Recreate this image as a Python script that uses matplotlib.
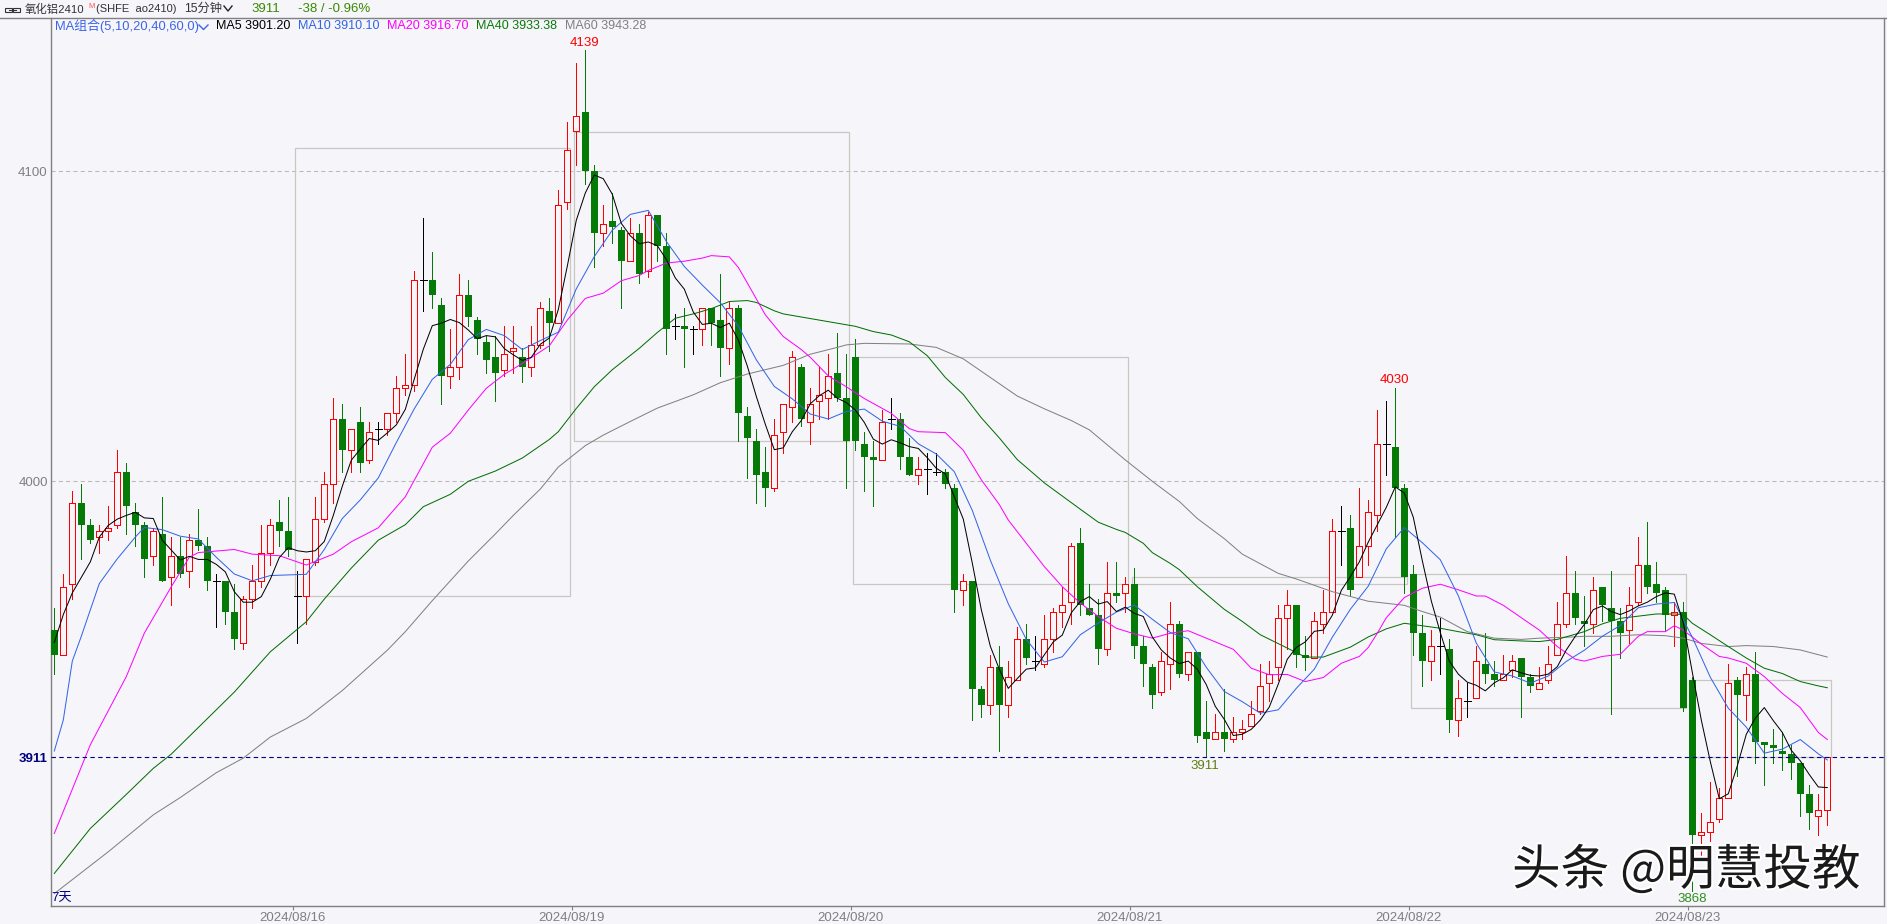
import matplotlib
matplotlib.use("Agg")
import matplotlib.pyplot as plt
import matplotlib.patheffects as pe
from matplotlib.lines import Line2D
from matplotlib.patches import Rectangle

plt.rcParams['font.family'] = ['Liberation Sans', 'Noto Sans CJK SC', 'DejaVu Sans']

W, H = 1887, 924
BG = '#f5f5fa'
RED = '#ff0000'
GREEN = '#067a06'
BLUE = '#3264e6'
MAGENTA = '#ff00ff'
GRAY = '#808080'
NAVY = '#000080'

opens = [3952,3944,3967,3993,3986,3982,3984,3986,4003,3990,3986,3976,3983,3969,3976,3971,3981,3979,3968,3968,
         3958,3948,3962,3968,3977,3987,3984,3963,3963,3974,3988,3999,4020,4010,4019,4007,4017,4017,4022,4030,
         4031,4065,4065,4057,4034,4037,4060,4052,4045,4040,4036,4042,4040,4037,4044,4055,4051,4090,4113,4119,
         4100,4080,4084,4081,4071,4080,4068,4086,4076,4050,4050,4049,4049,4056,4052,4043,4056,4021,4013,4003,
         3998,4016,4024,4037,4019,4026,4027,4035,4027,4040,4012,4008,4007,4020,4020,4008,4002,4004,4003,4003,
         3998,3965,3968,3933,3928,3940,3928,3936,3949,3942,3941,3949,3958,3961,3980,3959,3957,3946,3964,3964,
         3967,3947,3940,3932,3941,3954,3938,3945,3919,3917,3919,3917,3919,3921,3926,3935,3940,3956,3960,3944,
         3943,3954,3958,3984,3985,3969,3979,3989,4012,4011,3998,3970,3951,3942,3947,3946,3923,3929,3930,3941,
         3938,3936,3939,3943,3937,3933,3936,3944,3954,3964,3955,3954,3966,3959,3955,3952,3961,3973,3967,3965,
         3957,3958,3936,3886,3887,3891,3898,3936,3931,3938,3916,3915,3913,3912,3909,3899,3892,3894]
highs = [3959,3970,3997,3999,3988,3986,3992,4010,4006,3993,3987,3985,3995,3982,3982,3983,3991,3982,3970,3968,
         3967,3963,3973,3986,3988,3994,3995,3971,3975,3995,4003,4027,4025,4017,4024,4019,4019,4022,4034,4041,
         4068,4085,4074,4059,4049,4067,4065,4053,4047,4047,4050,4050,4043,4050,4058,4059,4094,4116,4135,4139,
         4102,4089,4093,4082,4085,4083,4087,4086,4080,4054,4056,4050,4056,4056,4067,4058,4057,4024,4017,4011,
         4020,4025,4042,4038,4030,4037,4041,4048,4041,4046,4016,4013,4023,4027,4022,4014,4008,4009,4009,4004,
         3999,3970,3968,3934,3944,3947,3942,3953,3954,3950,3957,3959,3966,3980,3985,3967,3962,3974,3974,3969,
         3972,3950,3941,3945,3961,3955,3945,3945,3929,3925,3933,3924,3923,3929,3941,3942,3960,3965,3960,3950,
         3958,3965,3988,3992,3989,3998,3994,4023,4026,4030,3999,3973,3957,3952,3956,3949,3936,3935,3947,3951,
         3942,3944,3944,3943,3938,3940,3947,3961,3976,3971,3963,3969,3966,3971,3959,3966,3982,3987,3974,3966,
         3961,3961,3937,3893,3903,3901,3941,3937,3940,3945,3916,3920,3919,3915,3909,3902,3899,3911]
lows = [3938,3944,3962,3975,3980,3977,3981,3985,3983,3979,3969,3973,3968,3960,3969,3966,3978,3965,3953,3954,
        3946,3946,3959,3966,3973,3979,3976,3948,3954,3973,3987,3993,4003,4003,4003,4006,4012,4015,4019,4028,
        4029,4055,4056,4025,4030,4033,4050,4041,4035,4026,4034,4035,4032,4034,4043,4042,4051,4088,4102,4096,
        4069,4076,4077,4056,4071,4064,4066,4071,4041,4046,4037,4041,4044,4044,4034,4038,4013,4001,3993,3992,
        3997,4009,4019,4018,4012,4020,4020,4026,3998,4010,3997,3992,4007,4017,4004,4002,3999,3996,4002,3998,
        3958,3960,3923,3924,3925,3913,3924,3936,3941,3939,3940,3945,3953,3954,3957,3957,3941,3944,3961,3958,
        3943,3934,3927,3931,3933,3937,3936,3916,3911,3917,3913,3916,3917,3921,3925,3929,3936,3946,3940,3939,
        3943,3951,3958,3973,3963,3969,3973,3984,4002,3982,3964,3944,3934,3936,3938,3919,3918,3924,3930,3935,
        3934,3936,3937,3924,3932,3933,3935,3944,3953,3954,3947,3951,3955,3925,3943,3948,3960,3964,3961,3952,
        3947,3926,3868,3878,3884,3890,3898,3905,3923,3909,3902,3909,3907,3904,3892,3888,3886,3889]
closes = [3944,3966,3993,3986,3981,3984,3985,4003,3992,3986,3975,3984,3968,3976,3970,3981,3979,3968,3968,3958,
          3949,3962,3968,3977,3986,3984,3978,3963,3975,3988,3999,4020,4010,4017,4006,4016,4017,4022,4030,4031,
          4065,4065,4060,4034,4037,4060,4053,4046,4039,4035,4041,4043,4037,4044,4056,4051,4089,4107,4118,4100,
          4080,4083,4082,4071,4080,4067,4086,4076,4049,4050,4049,4049,4056,4051,4043,4056,4022,4014,4002,3998,
          4015,4025,4040,4020,4025,4028,4034,4027,4013,4013,4008,4007,4019,4020,4008,4002,4004,4004,4003,3999,
          3965,3968,3933,3928,3940,3928,3937,3949,3943,3942,3949,3958,3960,3979,3960,3957,3946,3964,3963,3967,
          3947,3941,3931,3942,3954,3938,3945,3918,3917,3919,3917,3919,3920,3925,3934,3938,3956,3960,3944,3943,
          3955,3958,3984,3984,3965,3979,3990,4012,4012,3998,3969,3951,3942,3947,3947,3923,3930,3929,3942,3938,
          3936,3938,3942,3937,3934,3935,3941,3954,3964,3956,3954,3965,3960,3955,3951,3960,3973,3966,3964,3957,
          3958,3927,3886,3887,3890,3898,3935,3931,3938,3916,3915,3914,3912,3909,3899,3893,3894,3911]

ma5_values = [3948,3957,3964,3969,3974,3982,3985.8,3987.8,3989,3990,3988.2,3988,3981,3977.8,3974.6,3975.8,3974.8,3974.8,3973.2,3970.8,
 3964.4,3961,3961,3962.8,3968.4,3975.4,3978.6,3977.6,3977.2,3977.6,3980.6,3989,3998.4,4006.8,4010.4,4013.8,4013.2,4015.6,4018.2,4023.2,
 4033,4042.6,4050.2,4051,4052.2,4051.2,4048.8,4046,4047,4046.6,4042.8,4040.8,4039,4040,4044.2,4046.2,4055.4,4069.4,4084.2,4093,
 4098.8,4097.6,4092.6,4083.2,4079.2,4076.6,4077.2,4076,4071.6,4065.6,4062,4054.6,4050.6,4051,4049.6,4051,4045.6,4037.2,4027.4,4018.4,
 4010.2,4010.8,4016,4019.6,4025,4027.6,4029.4,4026.8,4025.4,4023,4019,4013.6,4012,4013.4,4012.4,4011.2,4010.6,4007.6,4004.2,4002.4,
 3995,3987.8,3973.6,3958.6,3946.8,3939.4,3933.2,3936.4,3939.4,3939.8,3944,3948.2,3950.4,3957.6,3961.2,3962.8,3960.4,3961.2,3958,3959.4,
 3957.4,3956.4,3949.8,3945.6,3943,3941.2,3942,3939.4,3934.4,3927.4,3923.2,3918,3918.4,3920,3923,3927.2,3934.6,3942.6,3946.4,3948.2,
 3951.6,3952,3956.8,3964.8,3969.2,3974,3980.4,3986,3991.6,3998.2,3996.2,3988.4,3974.4,3961.4,3951.2,3942,3937.8,3935.2,3934.2,3932.4,
 3935,3936.6,3939.2,3938.2,3937.4,3937.2,3937.8,3940.2,3945.6,3950,3953.8,3958.6,3959.8,3958,3957,3958.2,3959.8,3961,3962.8,3964,
 3963.6,3954.4,3938.4,3923,3909.6,3897.6,3899.2,3908.2,3918.4,3923.6,3927,3922.8,3919,3913.2,3909.8,3905.4,3901.4,3901.2]

ma10_bars = [0,1,2,3,5,7,9,10,12,14,16,18,20,22,24,26,28,30,32,34,36,38,40,42,44,46,48,50,52,54,56,58,60,62,64,66,68,70,72,74,76,78,80,
 82,84,86,88,90,92,94,96,98,100,102,104,106,108,110,112,114,116,118,120,122,124,126,128,130,132,134,136,138,140,142,144,146,148,150,
 152,154,156,158,160,162,164,166,168,170,172,174,176,178,180,182,184,186,188,190,192,194,196,197]
ma10_values = [3913,3923,3942,3950,3967,3975,3982,3985.1,3984.4,3982.3,3981.4,3975.5,3970.1,3967.9,3969.6,3969.8,3970,3978,3988,3994,4001.1,4012.5,4023.4,4032.9,4037.7,4045.7,4049,4047,4042.5,4045.4,4048.1,4062.1,4072.5,4081,4086.1,4087.4,4077.4,4069.3,4063.3,4057.6,4050.1,4039.2,4030.6,
 4026.6,4021.7,4020.1,4022.5,4023.3,4019.4,4017.7,4012.1,4008.8,4003.1,3990.6,3974.6,3960.5,3949,3941.7,3943.4,3950.5,3954.3,3957.8,3960.1,3955.5,3951.2,3949.2,3940,3932.2,3928.9,3925.2,3926.3,3933.2,3939.4,3949.7,3958.7,3966.2,3978.2,3985.1,
 3980.2,3974.7,3963.1,3947.8,3938.5,3937.2,3934.9,3937.2,3941.9,3945.5,3950,3953.5,3959.2,3960.4,3960.9,3949.7,3936.8,3926.8,3920.7,3912.3,3913.6,3916.7,3912.1,3910.1]

ma20_bars = [0,1,4,8,10,13,15,16,20,22,25,28,31,33,36,39,42,44,46,48,50,52,55,57,59,61,63,65,66,68,70,72,73,75,76,77,79,81,83,84,86,88,90,93,95,96,99,101,103,105,106,108,110,112,114,116,118,120,122,124,126,128,131,133,135,137,139,141,143,145,146,147,148,150,152,154,156,158,159,161,163,165,167,169,170,172,174,176,177,179,180,181,183,185,186,188,190,192,194,196,197]
ma20_values = [3886.4,3893.5,3915,3937,3951,3966,3975.5,3977,3978,3976.5,3976,3973,3976.5,3980.5,3985,3995,4011,4015.5,4023,4030,4034.5,4038,4043.7,4052,4059,4060.7,4064.7,4066.4,4068,4070.4,4071,4072,4072.8,4072.4,4069,4064,4053.7,4046.7,4042.5,4040,4034,4030.5,4026.7,4021.9,4017,4016,4015.7,4010,4000.5,3992.5,3987.5,3980,3972.5,3966,3960.7,3956.4,3952.6,3950.8,3949.4,3951,3951.8,3949.4,3945.8,3939.7,3937.6,3937.7,3935.4,3936.7,3941.3,3943.5,3946.4,3951,3956,3962.5,3965.5,3966.8,3965,3963,3963,3960,3956,3952,3946.7,3942.6,3942,3943.5,3944.2,3950,3951.5,3951.5,3953.4,3952,3947.5,3943.5,3943,3941.3,3937,3931.6,3927,3919,3916.7]

ma40_bars = [0,4,8,11,13,20,24,28,30,33,36,39,41,44,46,49,52,55,56,58,60,62,65,67,69,71,73,75,77,78,80,81,83,85,87,89,91,93,95,97,99,101,103,105,107,110,114,116,118,119,121,122,124,125,127,130,132,134,137,139,141,144,146,148,150,152,154,156,158,160,163,165,167,170,172,174,176,178,180,181,182,184,186,188,190,192,194,196,197]
ma40_values = [3873.5,3888,3899,3907.4,3912,3932,3945,3954.7,3962,3972,3981,3986,3991.8,3995.8,4000,4003.3,4007.5,4013.5,4016,4023.5,4030.5,4036,4042.9,4048,4052.6,4054,4055.7,4058,4058.3,4057.7,4055,4054,4053,4052,4051,4050,4048.3,4047.2,4045,4040.5,4033.5,4028,4020.5,4014,4007,3999.5,3991,3986.8,3984.5,3983.5,3980,3977,3973.5,3971.5,3966,3958.7,3954.8,3950.5,3946.2,3943.3,3943.3,3946.5,3949.8,3952.4,3954.2,3953.4,3952.6,3951.5,3950.5,3948.9,3948.5,3948.3,3949,3951.5,3954,3955.8,3956.5,3957.2,3957.2,3957,3954.2,3950.5,3946.7,3943,3939.7,3938,3935.4,3934,3933.4]

ma60_bars = [0,6,11,14,18,21,24,28,32,37,39,42,46,49,51,54,56,59,61,64,67,71,74,77,81,84,87,88,90,95,98,101,104,107,110,113,115,119,122,125,127,130,132,136,138,142,146,150,152,154,157,160,163,165,168,170,173,176,179,181,183,186,188,191,194,197]
ma60_values = [3867,3880.5,3892.4,3898,3906,3910.7,3917.5,3923.5,3932.5,3945.5,3951.5,3961.5,3974.3,3983,3989,3997.5,4004.6,4011.5,4014.9,4019.3,4023.6,4027.9,4031.8,4034.6,4037.4,4041,4043.2,4044,4044.5,4044.3,4043.2,4039.5,4033.5,4027.5,4023.4,4019.6,4016.6,4006.9,4000,3993.5,3988,3981.5,3976.5,3970.3,3968.5,3964.4,3961.3,3960,3958,3956.2,3951.5,3949.4,3949,3949.4,3949.7,3950,3950,3950.5,3950.2,3949.4,3947.7,3946.7,3947,3946.7,3945.6,3943.3]

box_left = [26.7,57.7,88.7,119.7,150.7,181.7]
box_right = [57.3,88.3,119.3,150.3,181.3,197.4]
box_high = [4107.4,4112.6,4040,3969,3970,3936]
box_low = [3963,4013,3967,3967,3927,3911]

date_positions = [26.5,57.5,88.5,119.5,150.5,181.5]
date_labels = ['2024/08/16','2024/08/19','2024/08/20','2024/08/21','2024/08/22','2024/08/23']
price_ticks = [4100,4000,3911]

fig = plt.figure(figsize=(W/100, H/100), dpi=100, facecolor=BG)
L, R, T, B = 50.5, 1883.5, 17.5, 905.5
ax = fig.add_axes([L/W, 1-B/H, (R-L)/W, (B-T)/H], facecolor=BG)
ax.set_xlim((L-54.3)/9, (R-54.3)/9)
ax.set_ylim(4000-(B-481.3)/3.1, 4000+(481.3-T)/3.1)
for s in ax.spines.values():
    s.set_color(GRAY); s.set_linewidth(1.0)
ax.spines['top'].set_visible(False)

# grid
for p in price_ticks[:2]:
    ax.axhline(p, color='#b9b9b9', lw=0.75, ls=(0, (4, 3)), zorder=1)
ax.axhline(price_ticks[2], color=NAVY, lw=0.8, ls=(0, (4, 3)), zorder=5)

# pivot boxes
for l, r, hi, lo in zip(box_left, box_right, box_high, box_low):
    ax.add_patch(Rectangle((l, lo), r-l, hi-lo, fill=False, ec='#c8c8c0', lw=0.85, zorder=1.5))

# candles
xs = list(range(len(closes)))
CW = 0.72
for i, (o, h, l, c) in enumerate(zip(opens, highs, lows, closes)):
    col = RED if c > o else (GREEN if c < o else 'black')
    ax.vlines(i, l, h, color=col, lw=CW, zorder=2, antialiased=False)
    if c == o:
        ax.hlines(c, i-0.4, i+0.4, color=col, lw=CW, zorder=3, antialiased=False)
    elif c > o:
        ax.bar(i, c-o, bottom=o, width=0.68, facecolor=BG, edgecolor=RED, lw=CW, zorder=3, antialiased=False)
    else:
        ax.bar(i, o-c, bottom=c, width=0.78, facecolor=GREEN, edgecolor=GREEN, lw=0, zorder=3, antialiased=False)

# moving averages
ax.plot(ma60_bars, ma60_values, color=GRAY, lw=0.72, zorder=4)
ax.plot(ma40_bars, ma40_values, color='#006e00', lw=0.72, zorder=4)
ax.plot(ma20_bars, ma20_values, color=MAGENTA, lw=0.72, zorder=4)
ax.plot(ma10_bars, ma10_values, color=BLUE, lw=0.72, zorder=4)
ax.plot(xs, ma5_values, color='black', lw=0.72, zorder=4)

# axes ticks
ax.set_xticks(date_positions, date_labels)
ax.tick_params(axis='x', length=3, color=GRAY, labelsize=9.5, labelcolor='#808080', pad=2)
ax.set_yticks(price_ticks, [str(p) for p in price_ticks])
ax.tick_params(axis='y', length=0, labelsize=9.5, pad=2, labelcolor='#808080')
lab = ax.get_yticklabels()[2]
lab.set_color(NAVY); lab.set_fontweight('bold')

def T_(x, y, s, color='black', size=9.0, ha='left', va='center', **kw):
    return fig.text(x/W, 1-y/H, s, color=color, fontsize=size, ha=ha, va=va, **kw)

# top rule and header
fig.add_artist(Line2D([0, 1], [1-17.5/H]*2, color=GRAY, lw=1.0))
for x0 in (4.5, 12.5):
    fig.add_artist(Rectangle((x0/W, 1-12/H), 7/W, 4/H, fill=False, ec='#333333', lw=0.8, transform=fig.transFigure))
fig.add_artist(Line2D([9/W, 16/W], [1-10/H]*2, color='#333333', lw=0.8))
T_(25, 9, '氧化铝2410', color='#333333', size=8.2)
T_(88, 6, 'M', color='#ff5050', size=5.5)
T_(96, 9, '(SHFE  ao2410)', color='#333333', size=8)
T_(184, 9, '15分钟', color='#333333', size=8.8)
fig.add_artist(Line2D([224/W, 228/W, 232/W], [1-6/H, 1-11/H, 1-6/H], color='#222222', lw=1.0))
T_(251, 9, '3911', color='#3a8a00', size=9.5)
T_(298, 9, '-38 / -0.96%', color='#3a8a00', size=9.5)

# MA legend
T_(55, 26, 'MA组合(5,10,20,40,60,0)', color='#3c64e6', size=9.3)
fig.add_artist(Line2D([199/W, 203.5/W, 208/W], [1-25/H, 1-29.5/H, 1-25/H], color='#3c64e6', lw=1.0))
T_(216, 26, 'MA5 3901.20')
T_(298, 26, 'MA10 3910.10', color=BLUE)
T_(387, 26, 'MA20 3916.70', color=MAGENTA)
T_(476, 26, 'MA40 3933.38', color='#0a7a0a')
T_(565, 26, 'MA60 3943.28', color=GRAY)

# extreme labels
T_(585, 43, '4139', color=RED, ha='center', size=9.5)
T_(1394, 380, '4030', color=RED, ha='center', size=9.5)
T_(1205, 766, '3911', color='#5f7f10', ha='center', size=9.5)
T_(1692, 899, '3868', color='#2f8f20', ha='center', size=9.5)
T_(51, 898, '7天', color=NAVY, size=9.5)

# watermark
wm = T_(1512, 871, '头条 @明慧投教', color='#1a1a1a', size=35, family=['Noto Sans CJK SC', 'DejaVu Sans'])
wm.set_path_effects([pe.withStroke(linewidth=3, foreground='#ffffff')])
wm.set_zorder(10)

fig.savefig('out.png', dpi=100, facecolor=BG)
